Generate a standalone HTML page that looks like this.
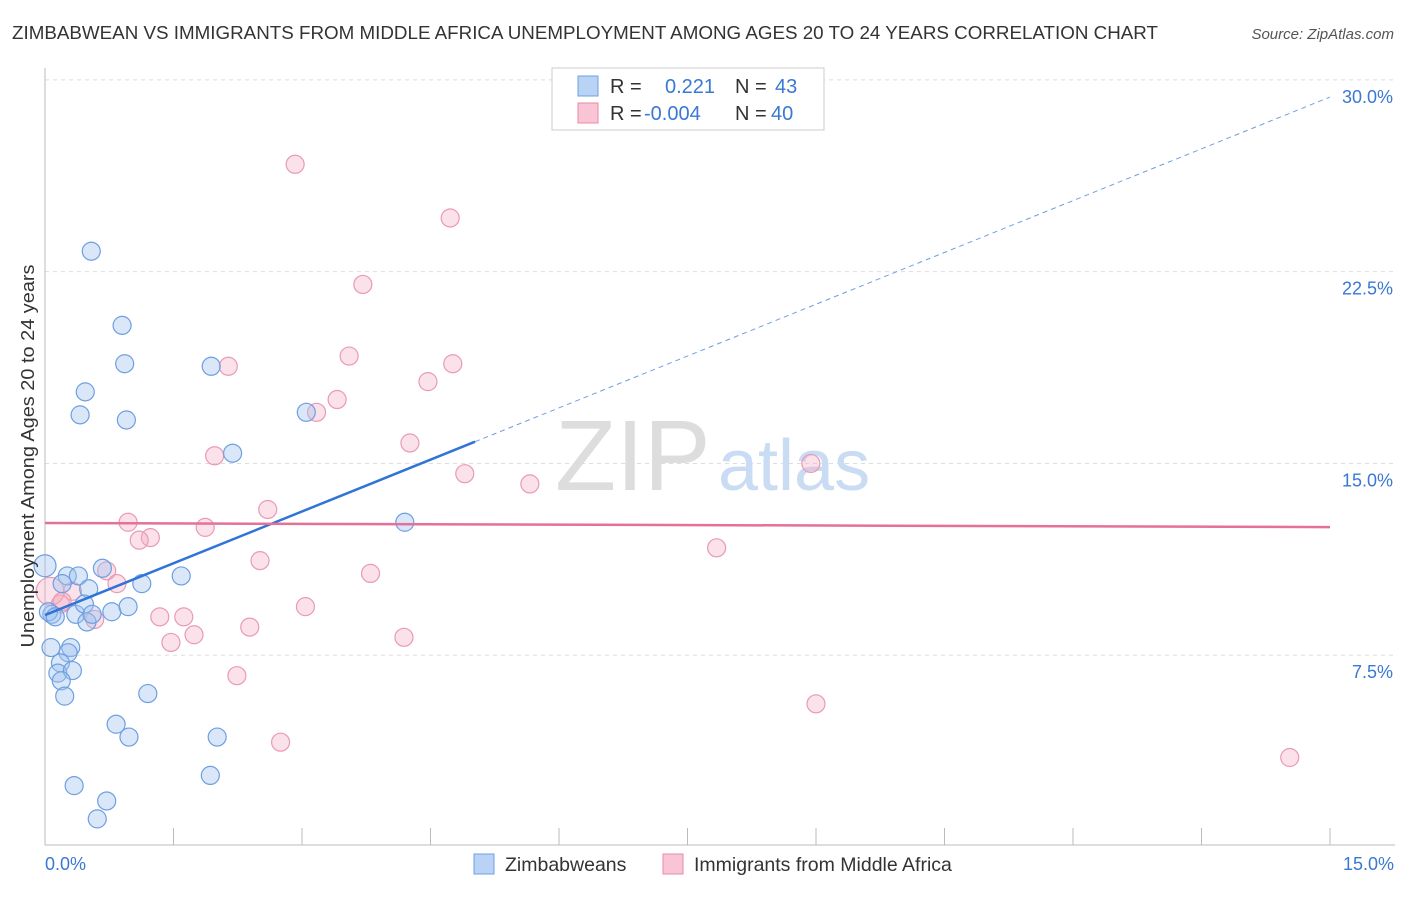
<!DOCTYPE html>
<html><head><meta charset="utf-8"><style>
body{margin:0;background:#fff;font-family:"Liberation Sans",sans-serif;}
svg text{font-family:"Liberation Sans",sans-serif;}
</style></head><body>
<svg width="1406" height="892" xmlns="http://www.w3.org/2000/svg">
<text x="12" y="39" font-size="18" fill="#333" textLength="1146" lengthAdjust="spacingAndGlyphs">ZIMBABWEAN VS IMMIGRANTS FROM MIDDLE AFRICA UNEMPLOYMENT AMONG AGES 20 TO 24 YEARS CORRELATION CHART</text>
<text x="1394" y="39" font-size="15" fill="#555" font-style="italic" text-anchor="end">Source: ZipAtlas.com</text>
<g id="grid"></g>
<text x="555" y="490" font-size="100" fill="#ddd" font-family="Liberation Serif,serif">ZIP</text>
<text x="718" y="490" font-size="72" fill="#c9dcf3">atlas</text>
<g id="axes"></g>
<g id="pts"></g>
<g id="lines"></g>
<text transform="translate(34,456) rotate(-90)" font-size="18" fill="#333" text-anchor="middle" textLength="383" lengthAdjust="spacingAndGlyphs">Unemployment Among Ages 20 to 24 years</text>
<text x="45" y="870" font-size="18" fill="#3a78d4">0.0%</text>
<text x="1394" y="870" font-size="18" fill="#3a78d4" text-anchor="end">15.0%</text>
<g>
<rect x="552" y="68" width="272" height="62" fill="#fff" stroke="#ccc"/>
<rect x="578" y="76" width="20" height="20" fill="#b9d3f5" stroke="#6f9fe0"/>
<rect x="578" y="103" width="20" height="20" fill="#f9c5d5" stroke="#e88aa8"/>
<text x="610" y="93" font-size="20" fill="#333">R = </text><text x="665" y="93" font-size="20" fill="#3a78d4">0.221</text>
<text x="735" y="93" font-size="20" fill="#333">N = </text><text x="775" y="93" font-size="20" fill="#3a78d4">43</text>
<text x="610" y="120" font-size="20" fill="#333">R = </text><text x="644" y="120" font-size="20" fill="#3a78d4">-0.004</text>
<text x="735" y="120" font-size="20" fill="#333">N = </text><text x="771" y="120" font-size="20" fill="#3a78d4">40</text>
</g>
<g>
<rect x="474" y="854" width="20" height="20" fill="#b9d3f5" stroke="#6f9fe0"/>
<text x="505" y="871" font-size="19.5" fill="#333">Zimbabweans</text>
<rect x="663" y="854" width="20" height="20" fill="#f9c5d5" stroke="#e88aa8"/>
<text x="694" y="871" font-size="19.5" fill="#333">Immigrants from Middle Africa</text>
</g>
</svg>
<script>
const yTicks=[7.5,15,22.5,30];
const yTickLabels=["7.5%","15.0%","22.5%","30.0%"];
const xTicks=[0,1.5,3,4.5,6,7.5,9,10.5,12,13.5,15];
const blueX=[0.54,0.90,0.93,0.47,0.41,0.95,1.94,2.19,3.05,4.20,0.0,0.26,0.39,0.20,0.51,0.67,1.13,1.59,0.08,0.04,0.36,0.46,0.49,0.55,0.78,0.97,0.07,0.30,0.27,0.18,0.15,0.32,0.19,0.23,1.20,0.83,0.98,2.01,1.93,0.34,0.72,0.61,0.12];
const blueY=[23.3,20.4,18.9,17.8,16.9,16.7,18.8,15.4,17.0,12.7,11.0,10.6,10.6,10.3,10.1,10.9,10.3,10.6,9.1,9.2,9.1,9.5,8.8,9.1,9.2,9.4,7.8,7.8,7.6,7.2,6.8,6.9,6.5,5.9,6.0,4.8,4.3,4.3,2.8,2.4,1.8,1.1,9.0];
const pinkX=[2.92,4.73,3.71,3.55,4.76,2.14,4.47,3.41,3.17,4.26,1.98,4.90,5.66,8.94,2.60,0.97,1.87,1.23,1.10,0.72,0.84,0.32,0.18,0.58,1.34,1.62,1.47,1.74,2.39,3.04,4.19,7.84,2.51,3.80,2.24,2.75,9.00,14.53,0.06,0.20];
const pinkY=[26.7,24.6,22.0,19.2,18.9,18.8,18.2,17.5,17.0,15.8,15.3,14.6,14.2,15.0,13.2,12.7,12.5,12.1,12.0,10.8,10.3,10.0,9.5,8.9,9.0,9.0,8.0,8.3,8.6,9.4,8.2,11.7,11.2,10.7,6.7,4.1,5.6,3.5,10.0,9.6];
const blueFit=[9.07,29.33];
const pinkFit=[12.67,12.51];
const NS="http://www.w3.org/2000/svg";
const X=v=>45+v/15*1285, Y=v=>847-v*25.57;
function mk(t,a,p){const e=document.createElementNS(NS,t);for(const k in a)e.setAttribute(k,a[k]);p.appendChild(e);return e;}
const grid=document.getElementById('grid'),axes=document.getElementById('axes'),pts=document.getElementById('pts'),lines=document.getElementById('lines');
yTicks.forEach((t,i)=>{
 const l=mk('line',{x1:45,x2:1395,y1:Y(t),y2:Y(t),stroke:'#ddd','stroke-dasharray':'4,4'},grid);
 
 
 const tx=mk('text',{x:1393,y:Y(t)+23,'font-size':18,fill:'#3a78d4','text-anchor':'end'},grid);
 tx.textContent=yTickLabels[i];
 
 
});
mk('line',{x1:45,x2:45,y1:68,y2:845,stroke:'#bbb'},axes);
mk('line',{x1:45,x2:1395,y1:845,y2:845,stroke:'#bbb'},axes);
xTicks.forEach(t=>{
 const l=mk('line',{x1:X(t),x2:X(t),y1:828,y2:845,stroke:'#bbb'},axes);
 
 
});
pinkX.forEach((x,i)=>{
 const c=mk('circle',{cx:X(x),cy:Y(pinkY[i]),r:i==38?14:9,fill:'rgba(244,168,192,0.35)',stroke:'#e99ab4','stroke-width':1.2},pts);
 
 
});
blueX.forEach((x,i)=>{
 const c=mk('circle',{cx:X(x),cy:Y(blueY[i]),r:i==10?11:9,fill:'rgba(160,196,240,0.4)',stroke:'#6e9fe0','stroke-width':1.2},pts);
 
 
});
const by=x=>blueFit[0]+(blueFit[1]-blueFit[0])*x/15;
const b1=mk('line',{x1:X(0),y1:Y(by(0)),x2:X(5.02),y2:Y(by(5.02)),stroke:'#2f74d6','stroke-width':2.5},lines);


const b2=mk('line',{x1:X(5.02),y1:Y(by(5.02)),x2:X(15),y2:Y(by(15)),stroke:'#6e9fe0','stroke-width':1,'stroke-dasharray':'5,4'},lines);


const p1=mk('line',{x1:X(0),y1:Y(pinkFit[0]),x2:X(15),y2:Y(pinkFit[1]),stroke:'#e5709a','stroke-width':2.5},lines);


</script>
</body></html>
